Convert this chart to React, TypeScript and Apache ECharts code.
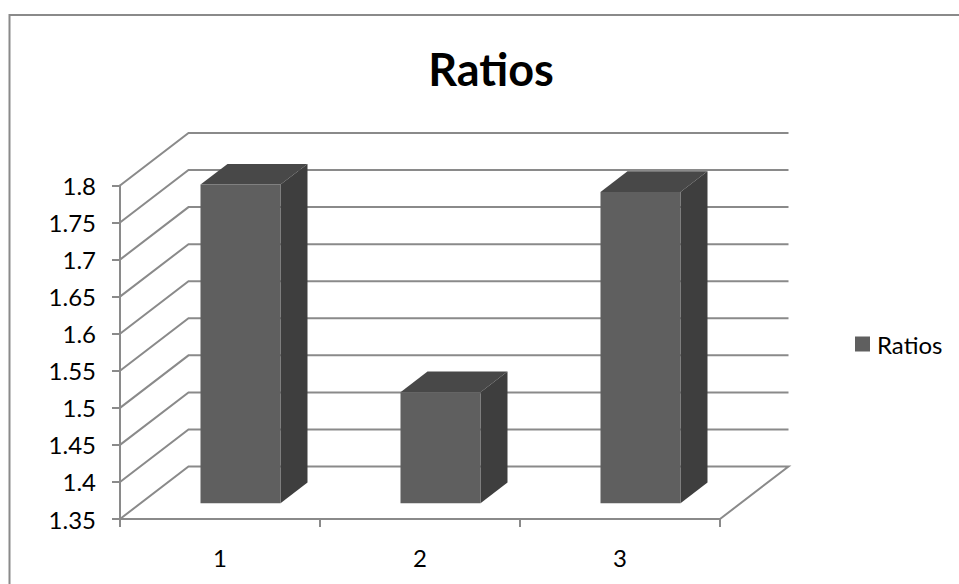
import React, { useEffect, useRef } from "react";
import * as echarts from "echarts";

const categories = ["1", "2", "3"];
const ratios = [1.78, 1.5, 1.77];
const wallTicks = [1.35, 1.4, 1.45, 1.5, 1.55, 1.6, 1.65, 1.7, 1.75, 1.8];

const DEPTH_X = 68.5;
const DEPTH_Y = 52.5;
const BAR_FRONT_X = 20.5;
const BAR_FRONT_Y = 15.7;
const BAR_SIDE_X = 27;
const BAR_SIDE_Y = 20.7;
const LINE = "#8a8a8a";
const FONT = "Lato, Carlito, sans-serif";
const LABEL_SIZE = 24;

export default function App() {
  const ref = useRef<HTMLDivElement>(null);
  useEffect(() => {
    document.body.style.margin = "0";
    const chart = echarts.init(ref.current!, undefined, { renderer: "svg" });
    chart.setOption({
      animation: false,
      backgroundColor: "#fff",
      title: {
        text: "Ratios",
        left: 486,
        top: 41,
        textAlign: "center",
        textStyle: { fontFamily: FONT, fontSize: 45, fontWeight: "bold", color: "#000" },
      },
      legend: {
        data: ["Ratios"],
        left: 850,
        top: 327,
        icon: "rect",
        itemWidth: 15,
        itemHeight: 15,
        itemGap: 0,
        textStyle: { fontFamily: FONT, fontSize: LABEL_SIZE, color: "#000", padding: [0, 0, 0, 2] },
        itemStyle: { color: "#5f5f5f" },
      },
      grid: { left: 120, right: 239, top: 185.5, bottom: 65 },
      xAxis: {
        type: "category",
        data: categories,
        axisLine: { show: true, lineStyle: { color: LINE, width: 2 } },
        axisTick: { show: true, length: 8, lineStyle: { color: LINE, width: 2 } },
        axisLabel: { margin: 26, fontFamily: FONT, fontSize: LABEL_SIZE, color: "#000" },
        splitLine: { show: false },
      },
      yAxis: {
        type: "value",
        min: 1.35,
        max: 1.8,
        interval: 0.05,
        axisLine: { show: true, lineStyle: { color: LINE, width: 2 } },
        axisTick: { show: true, length: 8, lineStyle: { color: LINE, width: 2 } },
        axisLabel: { margin: 24, fontFamily: FONT, fontSize: LABEL_SIZE, color: "#000" },
        splitLine: { show: false },
      },
      graphic: [
        {
          type: "polyline",
          silent: true,
          shape: { points: [[9.5, 584], [9.5, 15], [959, 15]] },
          style: { stroke: LINE, lineWidth: 2, fill: "none" },
        },
      ],
      series: [
        {
          name: "walls",
          type: "custom",
          z: 1,
          silent: true,
          data: wallTicks.map((v) => [0, v]),
          encode: { x: 0, y: 1 },
          renderItem: (params: any, api: any) => {
            const y = api.coord([0, api.value(1)])[1];
            const left = params.coordSys.x;
            const right = left + params.coordSys.width;
            const isFloor = api.value(1) === wallTicks[0];
            const points = [
              [left, y],
              [left + DEPTH_X, y - DEPTH_Y],
              [right + DEPTH_X, y - DEPTH_Y],
            ];
            if (isFloor) points.push([right, y]);
            return {
              type: "polyline",
              shape: { points },
              style: { stroke: LINE, lineWidth: 2, fill: "none" },
            };
          },
        },
        {
          name: "Ratios",
          type: "custom",
          z: 3,
          itemStyle: { color: "#5f5f5f" },
          data: ratios.map((v, i) => [i, v]),
          encode: { x: 0, y: 1 },
          renderItem: (params: any, api: any) => {
            const idx = api.value(0);
            const top = api.coord([idx, api.value(1)]);
            const base = api.coord([idx, wallTicks[0]]);
            const w = api.size([1, 0])[0] * 0.4;
            const x0 = top[0] - w / 2 + BAR_FRONT_X;
            const x1 = x0 + w;
            const yT = top[1] - BAR_FRONT_Y;
            const yB = base[1] - BAR_FRONT_Y;
            return {
              type: "group",
              children: [
                {
                  type: "polygon",
                  shape: { points: [[x0, yT], [x0 + BAR_SIDE_X, yT - BAR_SIDE_Y], [x1 + BAR_SIDE_X, yT - BAR_SIDE_Y], [x1, yT]] },
                  style: { fill: "#484848" },
                },
                {
                  type: "polygon",
                  shape: { points: [[x1, yT], [x1 + BAR_SIDE_X, yT - BAR_SIDE_Y], [x1 + BAR_SIDE_X, yB - BAR_SIDE_Y], [x1, yB]] },
                  style: { fill: "#3e3e3e" },
                },
                {
                  type: "rect",
                  shape: { x: x0, y: yT, width: w, height: yB - yT },
                  style: { fill: "#5f5f5f" },
                },
              ],
            };
          },
        },
      ],
    });
    return () => chart.dispose();
  }, []);
  return <div ref={ref} style={{ width: 959, height: 584 }} />;
}
